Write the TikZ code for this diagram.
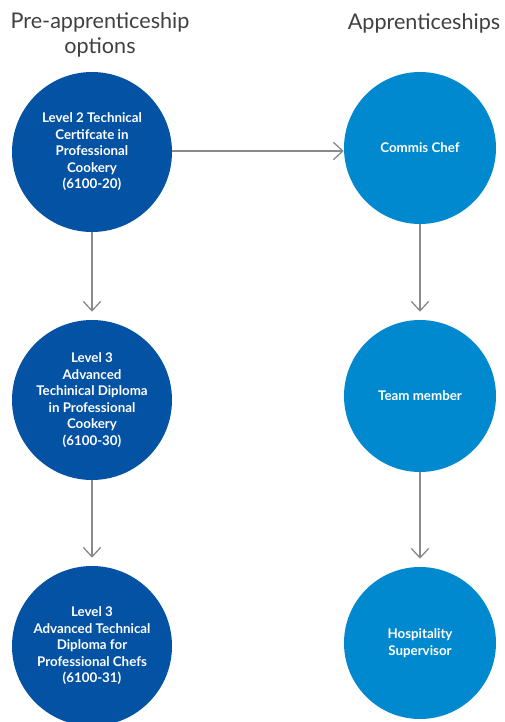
\documentclass[tikz,border=0pt]{standalone}
\usepackage{fontspec}
\setmainfont{Lato}
\usetikzlibrary{positioning,arrows.meta}
\definecolor{darkblue}{HTML}{0452A3}
\definecolor{lightblue}{HTML}{0089CF}
\definecolor{linegray}{HTML}{8A8A8A}

\begin{document}
\begin{tikzpicture}[
  x=0.75pt, y=-0.75pt,
  heading/.style={font=\fontsize{16.2}{19}\selectfont, text=black!75, align=center},
  leftcircle/.style={circle, fill=darkblue, text=white, minimum size=120pt, inner sep=0pt, align=center, font=\fontsize{10}{12.4}\selectfont\bfseries},
  rightcircle/.style={circle, fill=lightblue, text=white, minimum size=114pt, inner sep=0pt, align=center, font=\fontsize{10}{12.4}\selectfont\bfseries},
  arrow/.style={-{Straight Barb[length=7pt,width=13pt]}, draw=linegray, line width=1pt}
]
\useasboundingbox (0,0) rectangle (504,722);
\node[heading] (pretitle) at (100,35) {Pre-apprenticeship\\options};
\node[heading] (apptitle) at (424,23) {Apprenticeships};
\node[leftcircle] (level2) at (92,152) {Level 2 Technical\\Certifcate in\\Professional\\Cookery\\(6100-20)};
\node[leftcircle] (level3a) at (92,400) {Level 3\\Advanced\\Techinical Diploma\\in Professional\\Cookery\\(6100-30)};
\node[leftcircle] (level3b) at (92,646) {Level 3\\Advanced Technical\\Diploma for\\Professional Chefs\\(6100-31)};
\node[rightcircle] (commis) at (420,148) {Commis Chef};
\node[rightcircle] (team) at (420,396) {Team member};
\node[rightcircle] (super) at (420,643) {Hospitality\\Supervisor};
\draw[arrow] (level2.east |- 0,151) -- (commis.west |- 0,151);
\draw[arrow, shorten >=6pt] (level2) -- (level3a);
\draw[arrow, shorten >=6pt] (level3a) -- (level3b);
\draw[arrow, shorten >=6pt] (commis) -- (team);
\draw[arrow, shorten >=6pt] (team) -- (super);
\end{tikzpicture}
\end{document}
